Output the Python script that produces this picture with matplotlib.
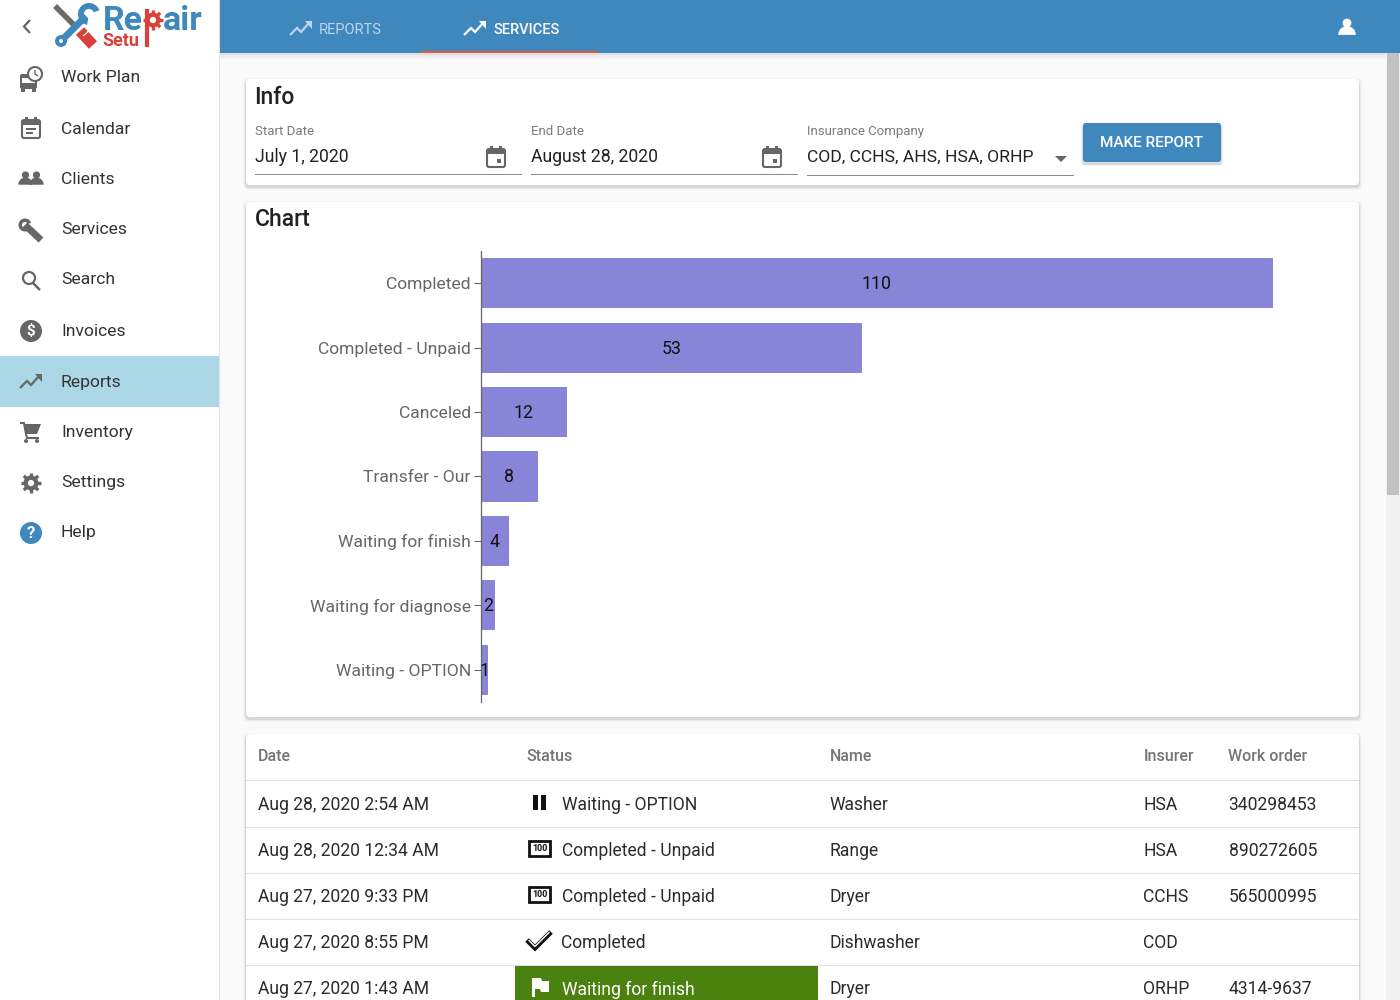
"""Reports page mock-up: service status bar chart with sidebar, filters and table."""
import math
import matplotlib
matplotlib.use("Agg")
import matplotlib.pyplot as plt
from matplotlib.patches import Rectangle, Circle, Polygon, FancyBboxPatch, Wedge

plt.rcParams["font.family"] = ["Roboto", "DejaVu Sans"]

statuses = ["Completed", "Completed - Unpaid", "Canceled", "Transfer - Our",
            "Waiting for finish", "Waiting for diagnose", "Waiting - OPTION"]
counts = [110, 53, 12, 8, 4, 2, 1]

menu_items = ["Work Plan", "Calendar", "Clients", "Services", "Search",
              "Invoices", "Reports", "Inventory", "Settings", "Help"]

table_headers = ["Date", "Status", "Name", "Insurer", "Work order"]
row_dates = ["Aug 28, 2020 2:54 AM", "Aug 28, 2020 12:34 AM", "Aug 27, 2020 9:33 PM",
             "Aug 27, 2020 8:55 PM", "Aug 27, 2020 1:43 AM"]
row_status = ["Waiting - OPTION", "Completed - Unpaid", "Completed - Unpaid",
              "Completed", "Waiting for finish"]
row_names = ["Washer", "Range", "Dryer", "Dishwasher", "Dryer"]
row_insurers = ["HSA", "HSA", "CCHS", "COD", "ORHP"]
row_orders = ["340298453", "890272605", "565000995", "", "4314-9637"]

BLUE = "#3e88bd"
RED = "#d9423b"
ICON = "#666666"
DARK = "#2b2b2b"
BAR = "#8884d8"

fig = plt.figure(figsize=(14, 10), dpi=100, facecolor="#fafafa")
ui = fig.add_axes([0, 0, 1, 1])
ui.set_xlim(0, 1400)
ui.set_ylim(1000, 0)
ui.axis("off")


def rect(x0, y0, x1, y1, color, z=1, alpha=1):
    ui.add_patch(Rectangle((x0, y0), x1 - x0, y1 - y0, fc=color, ec="none", zorder=z, alpha=alpha))


def label(x, y, s, size=12.65, color=DARK, ha="left", weight="normal", z=6):
    # va=center sits a little high against the browser text
    return ui.text(x, y + 1.5, s, fontsize=size, color=color, ha=ha, va="center",
                   fontweight=weight, zorder=z)


def line(pts, color=ICON, lw=1.5, z=5):
    ui.plot([p[0] for p in pts], [p[1] for p in pts], color=color, lw=lw, zorder=z,
            solid_capstyle="butt", solid_joinstyle="miter")


def poly(pts, color=ICON, z=5):
    ui.add_patch(Polygon(pts, closed=True, fc=color, ec="none", zorder=z))


def dot(cx, cy, r, color=ICON, z=5):
    ui.add_patch(Circle((cx, cy), r, fc=color, ec="none", zorder=z))


def card(x0, y0, x1, y1):
    for grow, alpha in [(3, 0.025), (2, 0.04), (1, 0.08)]:
        ui.add_patch(FancyBboxPatch((x0 - grow, y0 - grow + 2), x1 - x0 + 2 * grow, y1 - y0 + 2 * grow,
                                    boxstyle="round,pad=0,rounding_size=5", fc="black", ec="none",
                                    alpha=alpha, zorder=2))
    ui.add_patch(FancyBboxPatch((x0, y0), x1 - x0, y1 - y0, boxstyle="round,pad=0,rounding_size=4",
                                fc="white", ec="none", zorder=3))


def trend(cx, cy, color, s=1.0):
    pts = [(-11, 7), (-4, 0), (0, 4), (8, -5)]
    line([(cx + a * s, cy + b * s) for a, b in pts], color, 1.6)
    poly([(cx + 3.5 * s, cy - 7 * s), (cx + 11 * s, cy - 7 * s), (cx + 11 * s, cy + 0.5 * s)], color)


def calendar(cx, cy, color=ICON, lines=False):
    ui.add_patch(FancyBboxPatch((cx - 9, cy - 8), 18, 18, boxstyle="round,pad=0,rounding_size=2",
                                fc="none", ec=color, lw=1.5, zorder=5))
    rect(cx - 9, cy - 8, cx + 9, cy - 3, color, 5)
    rect(cx - 6, cy - 11, cx - 3, cy - 7, color, 5)
    rect(cx + 3, cy - 11, cx + 6, cy - 7, color, 5)
    if lines:
        rect(cx - 5, cy, cx + 5, cy + 2, color, 5)
        rect(cx - 5, cy + 4, cx + 2, cy + 6, color, 5)
    else:
        rect(cx + 1, cy + 2, cx + 5, cy + 6, color, 5)


def person(cx, cy, color, r):
    dot(cx, cy, r, color)
    ui.add_patch(Wedge((cx, cy + 2.7 * r), 2 * r, 180, 360, fc=color, ec="none", zorder=5))


def gear(cx, cy, r, color, hole="white", teeth=8, z=5):
    dot(cx, cy, r, color, z)
    for k in range(teeth):
        a = 2 * math.pi * k / teeth
        line([(cx + r * 0.8 * math.cos(a), cy + r * 0.8 * math.sin(a)),
              (cx + r * 1.35 * math.cos(a), cy + r * 1.35 * math.sin(a))], color, 2.4, z)
    dot(cx, cy, r * 0.42, hole, z + 0.5)


# page frame
rect(0, 0, 219, 1000, "white", 1)
rect(219, 0, 220, 1000, "#e3e3e3", 1)
for i, a in enumerate([0.10, 0.06, 0.03]):
    rect(220, 53 + i * 2, 1386, 55 + i * 2, "black", 1, a)
rect(220, 0, 1400, 53, BLUE, 4)
rect(1386, 53, 1400, 1000, "#f1f1f1", 1)
rect(1387, 53, 1399, 495, "#c1c1c1", 2)

# logo
line([(30, 20), (24, 26.5), (30, 33)], ICON, 1.6)
line([(55, 6), (75, 26)], "#6f6a6a", 4)
line([(86, 16), (62, 40)], BLUE, 5)
dot(61, 41, 6, BLUE)
dot(61, 41, 2, "white", 6)
ui.add_patch(Wedge((89, 14), 11, 100, 340, width=6, fc=BLUE, ec="none", zorder=5))
line([(80, 31), (93, 45)], RED, 8)
for d in [0, 4]:
    line([(83 + d, 36 - d), (88 + d, 32 - d)], "white", 0.8, 6)
label(103, 20, "Re", 24.5, BLUE, weight="bold")
gear(153, 20, 7.5, RED)
line([(147, 9), (147, 47)], RED, 3)
label(163, 20, "air", 24.5, BLUE, weight="bold")
label(102, 40, "Setu", 13, RED, weight="bold")

# sidebar
rect(0, 356, 219, 407, "#acd7e6", 2)
menu_y = [77, 128, 178, 229, 279, 330, 381, 431, 482, 532]
for name, y in zip(menu_items, menu_y):
    label(61, y - 0.5, name, 12.6, "#333333")

# work plan: bus with clock
ui.add_patch(FancyBboxPatch((20, 74), 17, 15, boxstyle="round,pad=0,rounding_size=2", fc=ICON, ec="none", zorder=5))
rect(22, 78, 35, 83, "white", 6)
rect(21, 89, 25, 92, ICON, 5)
rect(32, 89, 36, 92, ICON, 5)
ui.add_patch(Circle((35, 74), 7, fc="white", ec=ICON, lw=1.5, zorder=7))
line([(35, 70), (35, 74), (38, 76)], ICON, 1, 8)
calendar(31, 128, ICON, True)
# clients
person(25.5, 175, ICON, 3.6)
person(36.5, 175, ICON, 3.6)
# services wrench
line([(25, 225), (41, 240)], ICON, 5)
ui.add_patch(Wedge((25, 225), 6.5, 70, 340, width=3.5, fc=ICON, ec="none", zorder=5))
# search
ui.add_patch(Circle((29, 278), 6, fc="none", ec=ICON, lw=1.6, zorder=5))
line([(33, 283), (40, 290)], ICON, 1.8)
# invoices
dot(31, 331, 11)
ui.text(31, 331, "$", fontsize=11, color="white", ha="center", va="center", fontweight="bold", zorder=6)
trend(31, 381, ICON)
# inventory cart
line([(20, 423), (24, 423), (26, 434)], ICON, 1.5)
poly([(24, 424), (41, 424), (37, 434), (26, 434)], ICON)
line([(26, 434), (27, 438), (39, 438)], ICON, 1.5)
dot(26, 441, 2)
dot(37, 441, 2)
gear(31, 483, 7.5, ICON)
# help
dot(31, 533, 11, BLUE)
ui.text(31, 533, "?", fontsize=12, color="white", ha="center", va="center", fontweight="bold", zorder=6)

# top bar
trend(301, 28, "#bcd6e9")
label(319, 29, "REPORTS", 10.5, "#bcd6e9")
trend(475, 28, "white")
label(494, 29, "SERVICES", 10.5, "white", weight="medium")
rect(421, 51, 598, 53, "#e8563a", 5)
person(1347, 23, "white", 4.4)

# info card
card(246, 79, 1359, 185)
label(254.5, 96, "Info", 16.5, "#222222", weight="medium")
fields = [(255, 522, "Start Date", "July 1, 2020"), (531, 798, "End Date", "August 28, 2020")]
for x0, x1, title, value in fields:
    label(x0, 130, title, 9.5, "#7a7a7a")
    label(x0, 156, value, 12.7, "#222222")
    rect(x0, 174, x1, 175, "#8a8a8a", 5)
calendar(496, 157)
calendar(772, 157)
label(807, 130, "Insurance Company", 9.5, "#7a7a7a")
label(807, 156, "COD, CCHS, AHS, HSA, ORHP", 12.6, "#222222")
rect(807, 175, 1074, 176, "#8a8a8a", 5)
poly([(1055, 156), (1067, 156), (1061, 162)], ICON)
for grow, alpha in [(2, 0.05), (1, 0.1)]:
    ui.add_patch(FancyBboxPatch((1083 - grow, 123 - grow + 2), 138 + 2 * grow, 39 + 2 * grow,
                                boxstyle="round,pad=0,rounding_size=4", fc="black", ec="none",
                                alpha=alpha, zorder=4))
ui.add_patch(FancyBboxPatch((1083, 123), 138, 39, boxstyle="round,pad=0,rounding_size=3",
                            fc=BLUE, ec="none", zorder=5))
label(1152, 141.5, "MAKE REPORT", 11, "white", ha="center", weight="medium")

# chart card
card(246, 202, 1359, 717)
label(254.5, 218.5, "Chart", 16.5, "#222222", weight="medium")

ax = fig.add_axes([480.5 / 1400, 1 - 702 / 1000, (1272.5 - 480.5) / 1400, 451 / 1000], zorder=5)
ax.patch.set_alpha(0)
ax.barh(range(len(statuses)), counts, height=0.78, color=BAR)
for i, c in enumerate(counts):
    ax.annotate(str(c), (c / 2, i), xytext=(0, -0.7), textcoords="offset points",
                ha="center", va="center", fontsize=12.8, color="#111111")
ax.set_xlim(0, 110)
ax.set_ylim(len(statuses) - 0.5, -0.5)
ax.set_yticks(range(len(statuses)), statuses, fontsize=12.6, color="#666666")
ax.tick_params(axis="y", length=5, width=0.8, color="#666666", pad=2)
ax.xaxis.set_visible(False)
for side in ["top", "right", "bottom"]:
    ax.spines[side].set_visible(False)
ax.spines["left"].set_color("#666666")
ax.spines["left"].set_linewidth(0.9)

# table card
card(246, 734, 1359, 1010)
col_x = [257.5, 526.5, 829.5, 1143.5, 1228.5]
for x, head in zip(col_x, table_headers):
    label(x, 755, head, 11.5, "#757575", weight="medium")
for y in [780, 827, 873, 919, 965]:
    rect(246, y, 1359, y + 1, "#e0e0e0", 4)
rect(515, 966, 818, 1000, "#4b820f", 4)

row_y = [803, 849, 895, 941, 987]
for i, y in enumerate(row_y):
    label(col_x[0], y, row_dates[i])
    status_color = "white" if row_status[i] == "Waiting for finish" else DARK
    label(561.5, y + 1, row_status[i], 12.65, status_color)
    label(col_x[2], y, row_names[i])
    label(col_x[3], y, row_insurers[i])
    label(col_x[4], y, row_orders[i])

# status icons
rect(533, 795, 537.5, 810, "#111111", 5)
rect(541, 795, 545.5, 810, "#111111", 5)
for cy in [849, 895]:
    ui.add_patch(Rectangle((529, cy - 8), 21, 15, fc="none", ec="#111111", lw=2, zorder=5))
    ui.text(539.5, cy - 0.5, "100", fontsize=6.5, color="#111111", ha="center", va="center",
            fontweight="bold", zorder=6)
line([(527, 940), (535, 948), (551, 932)], "#111111", 3.6)
line([(528.5, 940), (535, 946.5), (549.5, 932)], "white", 1)
poly([(532, 978), (541, 978), (542, 981), (549, 981), (549, 992), (541, 992), (540, 989), (535, 989),
      (535, 997), (532, 997)], "white")

fig.savefig("out.png", dpi=100, facecolor=fig.get_facecolor())
